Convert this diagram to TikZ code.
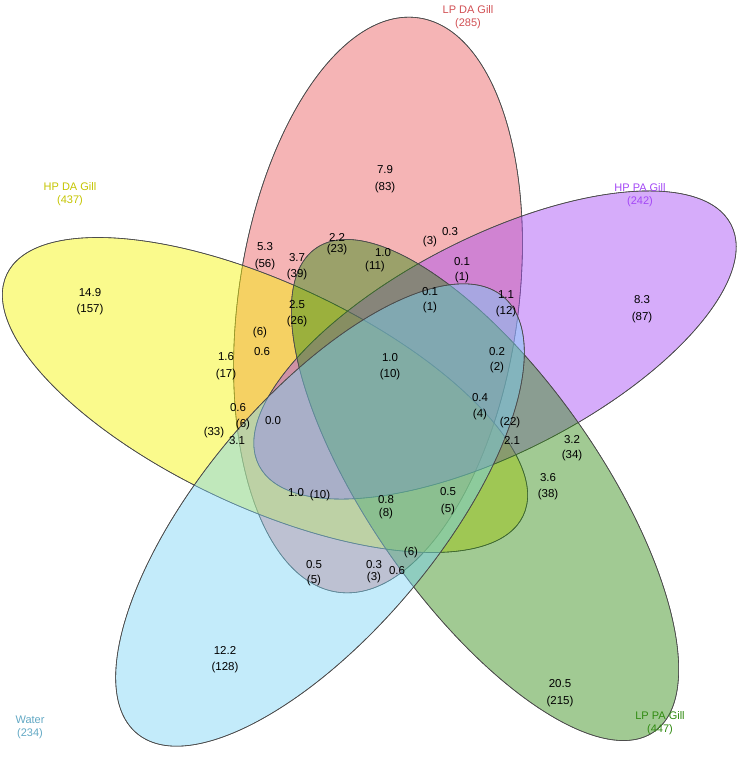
\documentclass[tikz,border=0pt]{standalone}
\usepackage{fontspec}
\setmainfont{Liberation Sans}
\begin{document}
\begin{tikzpicture}[x=1pt,y=-1pt,
  set/.style={draw=black!70,line width=0.6pt,fill opacity=0.45},
  num/.style={font=\fontsize{11.5}{13}\selectfont,inner sep=0pt,text=black},
  lab/.style={font=\fontsize{11}{13}\selectfont,align=center,inner sep=0pt}]
\useasboundingbox (0,0) rectangle (744,764);
\definecolor{cred}{HTML}{E8585C}
\definecolor{cyel}{HTML}{F5F500}
\definecolor{cpur}{HTML}{A347F5}
\definecolor{cgrn}{HTML}{2F8A10}
\definecolor{cblu}{HTML}{7AD2F5}
\fill[cred,set] [shift={(378,305)},rotate=-8] (0,0) ellipse [x radius=140,y radius=290];
\draw[set] [shift={(378,305)},rotate=-8] (0,0) ellipse [x radius=140,y radius=290];
\fill[cyel,set] [shift={(265,395)},rotate=-25] (0,0) ellipse [x radius=285,y radius=112];
\draw[set] [shift={(265,395)},rotate=-25] (0,0) ellipse [x radius=285,y radius=112];
\fill[cpur,set] [shift={(495,345)},rotate=27] (0,0) ellipse [x radius=265,y radius=108];
\draw[set] [shift={(495,345)},rotate=27] (0,0) ellipse [x radius=265,y radius=108];
\fill[cgrn,set] [shift={(485,490)},rotate=-55] (0,0) ellipse [x radius=295,y radius=115];
\draw[set] [shift={(485,490)},rotate=-55] (0,0) ellipse [x radius=295,y radius=115];
\fill[cblu,set] [shift={(320,515)},rotate=50] (0,0) ellipse [x radius=285,y radius=118];
\draw[set] [shift={(320,515)},rotate=50] (0,0) ellipse [x radius=285,y radius=118];
% set labels
\node[lab,text=cred!90!black] (lLPDA) at (468,17) {LP DA Gill\\(285)};
\node[lab,text=cyel!80!black] (lHPDA) at (70,194) {HP DA Gill\\(437)};
\node[lab,text=cpur] (lHPPA) at (640,195) {HP PA Gill\\(242)};
\node[lab,text=cgrn] (lLPPA) at (660,723) {LP PA Gill\\(447)};
\node[lab,text=cblu!80!black] (lW) at (30,727) {Water\\(234)};
% numbers
\foreach \n/\x/\y/\t in {
 a1/385/170/7.9, a2/385/188/(83), b1/90/293/14.9, b2/90/310/(157),
 c1/642/300/8.3, c2/642/318/(87), d1/560/684/20.5, d2/560/702/(215),
 e1/225/650/12.2, e2/225/668/(128),
 f1/265/247/5.3, f2/265/265/(56), g1/337/237/2.2, g2/337/250/(23),
 h1/383/253/1.0, h2/375/267/(11), i1/430/242/(3), i2/450/232/0.3,
 j1/297/258/3.7, j2/297/275/(39), k1/462/262/0.1, k2/462/278/(1),
 l1/506/295/1.1, l2/506/312/(12), m1/430/292/0.1, m2/430/308/(1),
 n1/297/305/2.5, n2/297/322/(26), o1/260/333/(6), o2/262/352/0.6,
 p1/226/357/1.6, p2/226/375/(17), q1/390/358/1.0, q2/390/375/(10),
 r1/497/352/0.2, r2/497/368/(2), s1/480/398/0.4, s2/480/415/(4),
 t1/572/440/3.2, t2/572/456/(34), u1/510/423/(22), u2/512/440/2.1,
 v1/238/408/0.6, v2/243/425/(6), w1/273/421/0.0,
 x1/214/433/(33), x2/237/441/3.1, y1/548/478/3.6, y2/548/495/(38),
 z1/296/493/1.0, z2/320/496/(10), A1/386/500/0.8, A2/386/514/(8),
 B1/448/492/0.5, B2/448/510/(5), C1/314/565/0.5, C2/314/581/(5),
 D1/374/565/0.3, D2/374/578/(3), E1/411/553/(6), E2/397/571/0.6}
 \node[num] (\n) at (\x,\y) {\t};
\end{tikzpicture}
\end{document}
